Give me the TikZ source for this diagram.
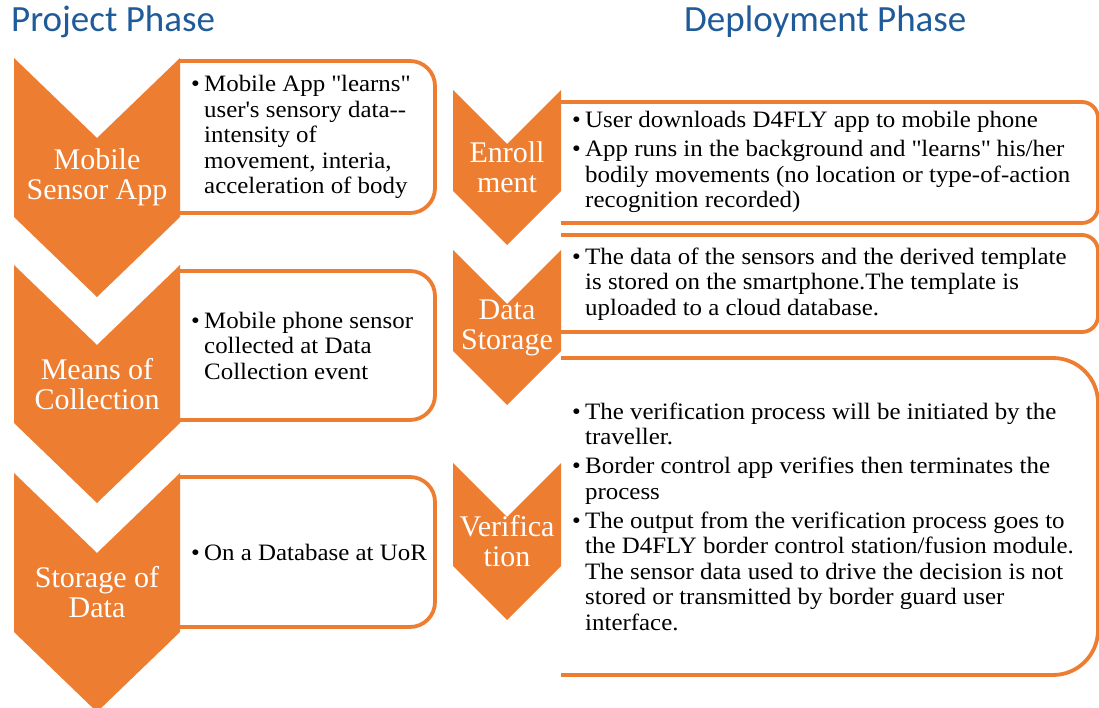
\documentclass[tikz,border=0pt]{standalone}
\usepackage{fontspec}
\setmainfont{Liberation Serif}[FakeStretch=1.06]
\newfontfamily\lblfont{Liberation Serif}
\newfontfamily\titlefont{Carlito}
\definecolor{orng}{HTML}{ED7D31}
\definecolor{ttlblue}{RGB}{31,91,153}
\newcommand\bul{\makebox[13pt][l]{\textbullet}}
\newcommand\ind{\hspace*{13pt}}
\newcommand\q{\textquotedbl}
\begin{document}
\begin{tikzpicture}[x=1pt,y=-1pt,
  chev/.style={fill=orng},
  box/.style={draw=orng,line width=3.8pt,fill=white},
  lbl/.style={text=white,font=\lblfont\fontsize{30}{30}\selectfont,align=center,inner sep=0},
  body/.style={font=\fontsize{23.5}{25.5}\selectfont,align=left,inner sep=0,anchor=west},
  ttl/.style={text=ttlblue,font=\titlefont\fontsize{37}{40}\selectfont,anchor=base west,inner sep=0}]
\useasboundingbox (0,0) rectangle (1099,708);
\clip (0,0) rectangle (1099,708);

% titles
\node[ttl] (t1) at (11,32) {Project Phase};
\node[ttl] (t2) at (684,32) {Deployment Phase};

% left boxes
\draw[box,rounded corners=25pt] (180,61) -- (435,61) -- (435,213) -- (180,213);
\draw[box,rounded corners=25pt] (180,271) -- (435,271) -- (435,420) -- (180,420);
\draw[box,rounded corners=25pt] (180,477) -- (435,477) -- (435,627) -- (180,627);

% left chevrons
\fill[chev] (14,58) -- (97,138) -- (180,58) -- (180,217) -- (97,297) -- (14,217) -- cycle;
\fill[chev] (14,265) -- (97,345) -- (180,265) -- (180,423) -- (97,503) -- (14,423) -- cycle;
\fill[chev] (14,473) -- (97,553) -- (180,473) -- (180,632) -- (97,712) -- (14,632) -- cycle;

% right boxes
\draw[box,rounded corners=16pt] (561,102) -- (1098,102) -- (1098,223) -- (561,223);
\draw[box,rounded corners=16pt] (561,235) -- (1098,235) -- (1098,332) -- (561,332);
\draw[box,rounded corners=45pt] (561,358) -- (1098,358) -- (1098,675) -- (561,675);

% right chevrons
\fill[chev] (453,90) -- (507,144) -- (561,90) -- (561,191) -- (507,245) -- (453,191) -- cycle;
\fill[chev] (453,250) -- (507,304) -- (561,250) -- (561,351) -- (507,405) -- (453,351) -- cycle;
\fill[chev] (453,463) -- (507,517) -- (561,463) -- (561,566) -- (507,620) -- (453,566) -- cycle;

% chevron labels
\node[lbl] (c1) at (97,177.5) {Mobile\\Sensor App};
\node[lbl] (c2) at (97,384) {Means of\\Collection};
\node[lbl] (c3) at (97,592.5) {Storage of\\Data};
\node[lbl] (c4) at (507,167.5) {Enroll\\ment};
\node[lbl] (c5) at (507,327.5) {Data\\Storage};
\node[lbl] (c6) at (507,541.5) {Verifica\\tion};

% left texts
\node[body] (b1) at (191,137) {\bul Mobile App \q learns\q\\
\ind user\textquotesingle s sensory data-{}-\\
\ind intensity of\\
\ind movement, interia,\\
\ind acceleration of body};
\node[body] (b2) at (191,345.5) {\bul Mobile phone sensor\\
\ind collected at Data\\
\ind Collection event};
\node[body] (b3) at (191,552) {\bul On a Database at UoR};

% right texts
\node[body] (r1) at (572,162) {\bul User downloads D4FLY app to mobile phone\\[3.5pt]
\bul App runs in the background and \q learns\q\ his/her\\
\ind bodily movements (no location or type-of-action\\
\ind recognition recorded)};
\node[body] (r2) at (572,284) {\bul The data of the sensors and the derived template\\
\ind is stored on the smartphone.The template is\\
\ind uploaded to a cloud database.};
\node[body] (r3) at (572,516.5) {\bul The verification process will be initiated by the\\
\ind traveller.\\[3.5pt]
\bul Border control app verifies then terminates the\\
\ind process\\[3.5pt]
\bul The output from the verification process goes to\\
\ind the D4FLY border control station/fusion module.\\
\ind The sensor data used to drive the decision is not\\
\ind stored or transmitted by border guard user\\
\ind interface.};
\end{tikzpicture}
\end{document}
